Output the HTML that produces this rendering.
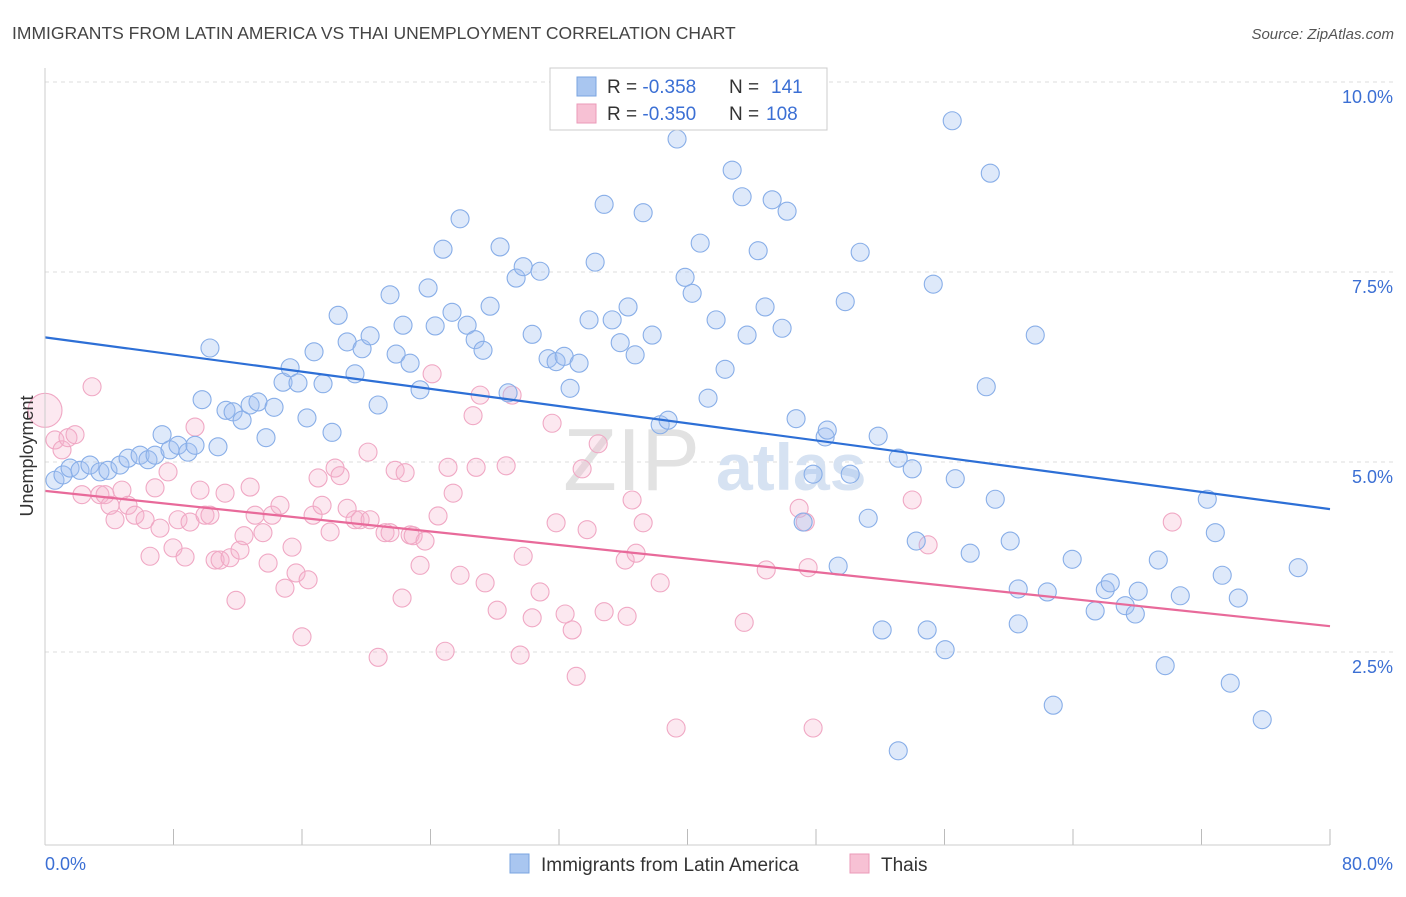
<!DOCTYPE html>
<html><head><meta charset="utf-8"><style>
body{margin:0;background:#fff;font-family:"Liberation Sans",sans-serif;}
svg text{font-family:"Liberation Sans",sans-serif;}
</style></head><body>
<svg id="chart" width="1406" height="892" xmlns="http://www.w3.org/2000/svg">
<text x="12" y="39" font-size="17.5" fill="#444">IMMIGRANTS FROM LATIN AMERICA VS THAI UNEMPLOYMENT CORRELATION CHART</text>
<text x="1394" y="39" font-size="15" fill="#555" font-style="italic" text-anchor="end">Source: ZipAtlas.com</text>
<g id="grid"></g>
<text x="700" y="490" font-size="88" fill="#e2e2e2" text-anchor="end" font-family="Liberation Serif">ZIP</text>
<text x="716" y="490" font-size="66" fill="#d6e2f2" font-weight="bold">atlas</text>
<g id="pts"></g>
<g id="lines"></g>
<line x1="45" y1="68" x2="45" y2="845" stroke="#ccc"/>
<line x1="45" y1="845" x2="1330" y2="845" stroke="#ccc"/>
<text x="45" y="870" font-size="18" fill="#3b6fd4">0.0%</text>
<text x="1393" y="870" font-size="18" fill="#3b6fd4" text-anchor="end">80.0%</text>
<text transform="translate(33,456) rotate(-90)" font-size="18" fill="#333" text-anchor="middle">Unemployment</text>
<g>
<rect x="550" y="68" width="277" height="62" fill="#fff" stroke="#ccc"/>
<rect x="577" y="77" width="19" height="19" fill="#a9c6f0" stroke="#7aa4e0"/>
<rect x="577" y="104" width="19" height="19" fill="#f7c1d4" stroke="#eb9ab8"/>
<text x="607" y="93" font-size="19" fill="#333">R = <tspan fill="#3b6fd4">-0.358</tspan><tspan x="729">N = </tspan><tspan x="771" fill="#3b6fd4">141</tspan></text>
<text x="607" y="120" font-size="19" fill="#333">R = <tspan fill="#3b6fd4">-0.350</tspan><tspan x="729">N = </tspan><tspan x="766" fill="#3b6fd4">108</tspan></text>
</g>
<g>
<rect x="510" y="854" width="19" height="19" fill="#a9c6f0" stroke="#7aa4e0"/>
<text x="541" y="871" font-size="19" fill="#333">Immigrants from Latin America</text>
<rect x="850" y="854" width="19" height="19" fill="#f7c1d4" stroke="#eb9ab8"/>
<text x="881" y="871" font-size="19" fill="#333">Thais</text>
</g>
</svg>
<script>
const yTicks=[2.5,5.0,7.5,10.0];
const yTickLabels=["2.5%","5.0%","7.5%","10.0%"];
const xTicks=[0,8,16,24,32,40,48,56,64,72,80];
const blueX=[0.62,1.12,1.56,2.18,2.80,3.42,3.92,4.67,5.17,5.92,6.41,6.85,7.29,7.78,8.28,8.90,9.34,9.78,10.27,10.77,11.27,11.71,12.27,12.77,13.26,13.76,14.26,14.82,15.26,15.75,16.31,16.75,17.31,17.87,18.25,18.81,19.30,19.74,20.24,20.74,21.48,21.86,22.29,22.73,23.35,23.85,24.29,24.78,25.34,25.84,26.28,26.78,27.27,27.71,28.33,28.83,29.33,29.77,30.33,30.82,31.32,31.82,32.32,32.69,33.25,33.87,34.25,34.81,35.31,35.81,36.30,36.74,37.24,37.80,38.30,38.79,39.35,39.85,40.29,40.79,41.28,41.78,42.34,42.78,43.40,43.71,44.40,44.83,45.27,45.89,46.20,46.76,47.20,47.82,48.57,48.70,49.38,49.82,50.13,50.75,51.25,51.87,52.12,53.12,53.12,53.99,54.24,54.92,55.30,56.04,56.48,56.67,57.60,58.60,58.85,59.16,60.09,60.59,60.59,61.65,62.40,62.77,63.95,65.38,66.01,66.32,67.25,67.88,68.06,69.31,69.74,70.68,72.36,72.86,73.29,73.79,74.29,75.78,78.02];
const blueY=[4.76,4.83,4.92,4.89,4.96,4.87,4.89,4.96,5.05,5.09,5.03,5.09,5.36,5.16,5.22,5.13,5.22,5.82,6.50,5.20,5.68,5.66,5.55,5.75,5.79,5.32,5.72,6.05,6.24,6.04,5.58,6.45,6.03,5.39,6.93,6.58,6.16,6.49,6.66,5.75,7.20,6.42,6.80,6.30,5.95,7.29,6.79,7.80,6.97,8.20,6.80,6.61,6.47,7.05,7.83,5.91,7.42,7.57,6.68,7.51,6.36,6.32,6.39,5.97,6.30,6.87,7.63,8.39,6.87,6.57,7.04,6.41,8.28,6.67,5.49,5.55,9.25,7.43,7.22,7.88,5.84,6.87,6.22,8.84,8.49,6.67,7.78,7.04,8.45,6.76,8.30,5.57,4.21,4.84,5.33,5.42,3.63,7.11,4.84,7.76,4.26,5.34,2.79,5.05,1.20,4.91,3.96,2.79,7.34,2.53,9.49,4.78,3.80,5.99,8.80,4.51,3.96,3.33,2.87,6.67,3.29,1.80,3.72,3.04,3.32,3.41,3.11,3.00,3.30,3.71,2.32,3.24,4.51,4.07,3.51,2.09,3.21,1.61,3.61];
const pinkX=[0,0.62,1.06,1.43,1.87,2.30,2.93,3.42,3.74,4.05,4.36,4.79,5.17,5.60,6.23,6.54,6.85,7.16,7.66,7.97,8.28,8.72,9.03,9.34,9.65,9.96,10.27,10.59,10.90,11.21,11.52,11.89,12.14,12.39,12.77,13.08,13.57,13.89,14.14,14.63,14.94,15.38,15.63,16.00,16.38,16.69,17.00,17.25,17.75,18.06,18.37,18.81,19.30,19.62,20.11,20.24,20.74,21.17,21.48,21.80,22.23,22.42,22.73,22.92,23.35,23.66,24.10,24.47,24.91,25.09,25.41,25.84,26.65,26.84,27.09,27.40,28.15,28.71,29.08,29.58,29.77,30.33,30.82,31.57,31.82,32.38,32.82,33.07,33.44,33.75,34.44,34.81,36.12,36.24,36.55,36.80,37.24,38.30,39.29,43.53,44.90,46.95,47.33,47.51,47.82,53.99,54.98,70.18];
const pinkY=[5.68,5.29,5.16,5.32,5.36,4.57,5.99,4.57,4.57,4.43,4.24,4.63,4.43,4.30,4.24,3.76,4.66,4.13,4.87,3.87,4.24,3.75,4.21,5.46,4.63,4.30,4.30,3.71,3.71,4.59,3.74,3.18,3.84,4.03,4.67,4.30,4.07,3.67,4.30,4.43,3.34,3.88,3.54,2.70,3.45,4.30,4.79,4.43,4.08,4.92,4.82,4.39,4.24,4.24,5.13,4.24,2.43,4.07,4.07,4.89,3.21,4.86,4.04,4.03,3.64,3.96,6.16,4.29,2.51,4.93,4.59,3.51,5.61,4.93,5.88,3.41,3.05,4.95,5.88,2.46,3.76,2.95,3.29,5.51,4.20,3.00,2.79,2.18,4.91,4.11,5.24,3.03,3.71,2.97,4.50,3.80,4.20,3.41,1.50,2.89,3.58,4.39,4.21,3.61,1.50,4.50,3.91,4.21];
const blueLine=[6.64,4.38];
const pinkLine=[4.62,2.84];
const NS="http://www.w3.org/2000/svg";
function sx(v){return 45+v*(1285/80);}
function sy(v){return 82+(10-v)*76;}
const grid=document.getElementById('grid');
yTicks.forEach((t,i)=>{
 const l=document.createElementNS(NS,'line');
 l.setAttribute('x1',45);l.setAttribute('x2',1394);l.setAttribute('y1',sy(t));l.setAttribute('y2',sy(t));
 l.setAttribute('stroke','#ddd');l.setAttribute('stroke-dasharray','4,4');
 
 
 grid.appendChild(l);
 const tx=document.createElementNS(NS,'text');
 tx.setAttribute('x',1393);tx.setAttribute('y',sy(t)+21);tx.setAttribute('text-anchor','end');
 tx.setAttribute('font-size','18');tx.setAttribute('fill','#3b6fd4');tx.textContent=yTickLabels[i];
 
 
 grid.appendChild(tx);
});
xTicks.forEach(t=>{
 const l=document.createElementNS(NS,'line');
 l.setAttribute('x1',sx(t));l.setAttribute('x2',sx(t));l.setAttribute('y1',829);l.setAttribute('y2',845);
 l.setAttribute('stroke','#bbb');
 
 
 grid.appendChild(l);
});
const pts=document.getElementById('pts');
function dot(x,y,r,fill,stroke,name){
 const c=document.createElementNS(NS,'circle');
 c.setAttribute('cx',sx(x));c.setAttribute('cy',sy(y));c.setAttribute('r',r);
 c.setAttribute('fill',fill);c.setAttribute('stroke',stroke);c.setAttribute('stroke-width','1.1');
 
 
 pts.appendChild(c);
}
pinkX.forEach((x,i)=>dot(x,pinkY[i],i===0?17:9,'rgba(246,178,204,0.3)','#f0a8c4','pink-point'));
blueX.forEach((x,i)=>dot(x,blueY[i],9,'rgba(160,192,240,0.35)','#88aee8','blue-point'));
const lines=document.getElementById('lines');
function tline(a,col,name){
 const l=document.createElementNS(NS,'line');
 l.setAttribute('x1',sx(0));l.setAttribute('y1',sy(a[0]));l.setAttribute('x2',sx(80));l.setAttribute('y2',sy(a[1]));
 l.setAttribute('stroke',col);l.setAttribute('stroke-width','2.2');
 
 
 lines.appendChild(l);
}
tline(blueLine,'#2d6fd6','blue-trend-line');
tline(pinkLine,'#e86a9a','pink-trend-line');
</script>
</body></html>
